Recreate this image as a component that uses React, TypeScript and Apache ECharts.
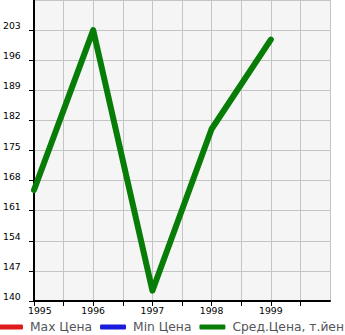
import React, { useEffect, useRef } from "react";
import * as echarts from "echarts";

const years = [1995, 1996, 1997, 1998, 1999];
const avgPrice = [165.8, 203, 142.4, 180, 200.8];
const maxPrice: number[] = [];
const minPrice: number[] = [];
const seriesNames = ["Max Цена", "Min Цена", "Сред.Цена, т.йен"];
const seriesColors = ["#e01b1b", "#1b1bdc", "#077d07"];
const xMin = 1995;
const xMax = 2000;

export default function App() {
  const ref = useRef<HTMLDivElement>(null);
  useEffect(() => {
    if (!ref.current) return;
    const chart = echarts.init(ref.current, undefined, { renderer: "svg" });
    const font = "DejaVu Sans";
    chart.setOption({
      animation: false,
      backgroundColor: "#ffffff",
      grid: {
        left: 31,
        right: 15,
        top: 0,
        bottom: 34,
        show: true,
        backgroundColor: "#f5f5f5",
        borderWidth: 0,
      },
      legend: {
        left: -3,
        top: 321,
        width: 600,
        icon: "roundRect",
        itemWidth: 26,
        itemHeight: 5,
        itemGap: 8,
        padding: 0,
        data: seriesNames,
        textStyle: { fontFamily: font, fontSize: 12.3, padding: [0, 0, 0, 2] },
      },
      xAxis: {
        type: "value",
        min: xMin,
        max: xMax,
        interval: 0.5,
        axisLine: { show: true, onZero: false, lineStyle: { color: "#000", width: 2 } },
        axisTick: { show: true, length: 5, lineStyle: { color: "#000", width: 1 } },
        splitLine: { show: true, lineStyle: { color: "#c4c4c4", width: 1 } },
        axisLabel: {
          show: true,
          margin: 5,
          color: "#000",
          fontFamily: font,
          fontSize: 9.3,
          showMinLabel: true,
          showMaxLabel: false,
          alignMinLabel: "left",
          hideOverlap: false,
          formatter: (v: number) => {
            if (!Number.isInteger(v) || v >= xMax) return "";
            return v === xMin ? `{m|${v}}` : String(v);
          },
          rich: {
            m: {
              color: "#000",
              fontFamily: font,
              fontSize: 9.3,
              padding: [0, 0, 0, -6],
            },
          },
        },
      },
      yAxis: {
        type: "value",
        min: 140,
        max: 210,
        interval: 7,
        axisLine: { show: true, onZero: false, lineStyle: { color: "#000", width: 2 } },
        axisTick: { show: true, length: 5, lineStyle: { color: "#000", width: 1 } },
        splitLine: { show: true, lineStyle: { color: "#c4c4c4", width: 1 } },
        axisLabel: {
          show: true,
          margin: 31,
          align: "left",
          verticalAlign: "bottom",
          color: "#000",
          fontFamily: font,
          fontSize: 9.3,
          showMaxLabel: false,
          hideOverlap: false,
        },
      },
      series: [
        {
          name: seriesNames[0],
          type: "line",
          data: maxPrice.map((v, i) => [years[i], v]),
          color: seriesColors[0],
          symbol: "none",
          lineStyle: { width: 6 },
        },
        {
          name: seriesNames[1],
          type: "line",
          data: minPrice.map((v, i) => [years[i], v]),
          color: seriesColors[1],
          symbol: "none",
          lineStyle: { width: 6 },
        },
        {
          name: seriesNames[2],
          type: "line",
          data: avgPrice.map((v, i) => [years[i], v]),
          color: seriesColors[2],
          symbol: "none",
          lineStyle: { width: 6, cap: "round", join: "round" },
        },
      ],
    });
    return () => chart.dispose();
  }, []);
  return (
    <div
      ref={ref}
      style={{ position: "fixed", left: 0, top: 0, width: 345, height: 335 }}
    />
  );
}
